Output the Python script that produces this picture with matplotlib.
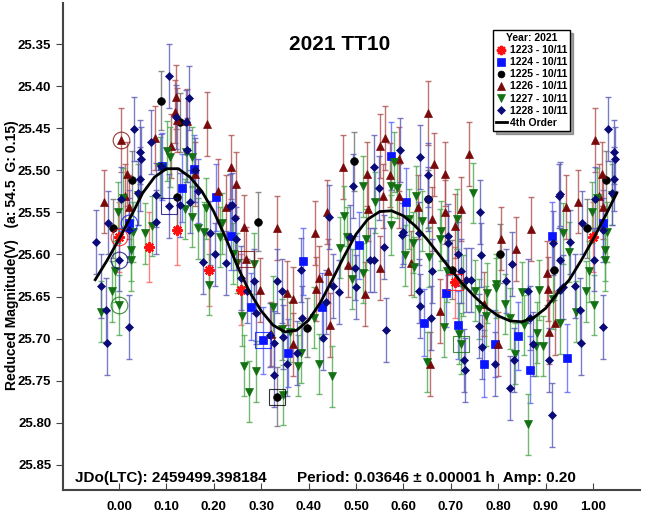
import matplotlib
matplotlib.use('Agg')
import matplotlib.pyplot as plt
from matplotlib.lines import Line2D
import numpy as np

plt.rcParams['font.family'] = ['Liberation Sans', 'DejaVu Sans']
plt.rcParams['font.weight'] = 'bold'

# Datos de fase (0-1) y magnitud reducida por sesion
p1223 = [0.000, 0.063, 0.123, 0.189, 0.257, 0.709]
m1223 = [25.579, 25.591, 25.571, 25.619, 25.642, 25.633]

p1224 = [0.022, 0.091, 0.133, 0.159, 0.205, 0.236, 0.278, 0.303, 0.356, 0.389,
         0.429, 0.507, 0.573, 0.605, 0.644, 0.690, 0.716, 0.769, 0.794, 0.842,
         0.867, 0.913, 0.946]
m1224 = [25.563, 25.495, 25.521, 25.498, 25.532, 25.578, 25.662, 25.702, 25.717, 25.608,
         25.662, 25.589, 25.483, 25.537, 25.681, 25.646, 25.684, 25.730, 25.706, 25.697,
         25.737, 25.578, 25.723]

p1225 = [0.028, 0.088, 0.123, 0.128, 0.293, 0.333, 0.397, 0.496, 0.651, 0.703,
         0.804, 0.917, 0.987]
m1225 = [25.512, 25.417, 25.532, 25.443, 25.561, 25.769, 25.687, 25.489, 25.534, 25.618,
         25.599, 25.619, 25.569]

p1226 = [0.005, 0.012, 0.018, 0.022, 0.075, 0.110, 0.119, 0.121, 0.123, 0.144,
         0.161, 0.186, 0.208, 0.226, 0.236, 0.247, 0.263, 0.269, 0.298, 0.320,
         0.334, 0.354, 0.368, 0.368, 0.413, 0.415, 0.422, 0.439, 0.441, 0.445,
         0.473, 0.484, 0.518, 0.523, 0.526, 0.551, 0.551, 0.556, 0.561, 0.571,
         0.590, 0.591, 0.616, 0.630, 0.651, 0.656, 0.661, 0.665, 0.677, 0.688,
         0.688, 0.708, 0.722, 0.739, 0.769, 0.799, 0.805, 0.838, 0.869, 0.902,
         0.904, 0.908, 0.920, 0.943, 0.968]
m1226 = [25.464, 25.531, 25.504, 25.543, 25.461, 25.471, 25.430, 25.413, 25.440, 25.441,
         25.504, 25.445, 25.525, 25.543, 25.496, 25.516, 25.567, 25.605, 25.642, 25.694,
         25.568, 25.646, 25.653, 25.707, 25.574, 25.641, 25.628, 25.549, 25.620, 25.684,
         25.496, 25.612, 25.647, 25.504, 25.546, 25.471, 25.616, 25.531, 25.461, 25.506,
         25.531, 25.487, 25.610, 25.543, 25.432, 25.730, 25.558, 25.493, 25.667, 25.504,
         25.549, 25.566, 25.546, 25.481, 25.659, 25.706, 25.581, 25.593, 25.570, 25.622,
         25.641, 25.692, 25.681, 25.543, 25.537]

p1227 = [0.001, 0.008, 0.026, 0.026, 0.030, 0.040, 0.055, 0.070, 0.086, 0.101,
         0.107, 0.139, 0.141, 0.154, 0.154, 0.167, 0.179, 0.184, 0.190, 0.213,
         0.217, 0.240, 0.249, 0.259, 0.263, 0.275, 0.285, 0.289, 0.324, 0.343,
         0.345, 0.361, 0.378, 0.383, 0.411, 0.422, 0.450, 0.467, 0.474, 0.480,
         0.492, 0.515, 0.515, 0.521, 0.540, 0.573, 0.574, 0.581, 0.586, 0.603,
         0.612, 0.621, 0.623, 0.626, 0.639, 0.650, 0.655, 0.678, 0.679, 0.686,
         0.691, 0.713, 0.718, 0.722, 0.726, 0.747, 0.751, 0.759, 0.775, 0.776,
         0.795, 0.795, 0.815, 0.824, 0.835, 0.851, 0.854, 0.862, 0.880, 0.881,
         0.887, 0.895, 0.916, 0.930, 0.937, 0.950, 0.963, 0.985, 0.991, 0.998]
m1227 = [25.660, 25.533, 25.595, 25.607, 25.573, 25.529, 25.575, 25.566, 25.496, 25.477,
         25.484, 25.546, 25.478, 25.555, 25.484, 25.569, 25.573, 25.545, 25.636, 25.579,
         25.563, 25.599, 25.610, 25.673, 25.732, 25.763, 25.611, 25.739, 25.662, 25.689,
         25.767, 25.692, 25.732, 25.717, 25.675, 25.730, 25.745, 25.592, 25.554, 25.579,
         25.629, 25.519, 25.622, 25.582, 25.538, 25.565, 25.519, 25.490, 25.521, 25.601,
         25.558, 25.586, 25.615, 25.531, 25.560, 25.728, 25.603, 25.582, 25.572, 25.686,
         25.620, 25.558, 25.694, 25.706, 25.637, 25.527, 25.643, 25.665, 25.673, 25.646,
         25.635, 25.640, 25.659, 25.676, 25.718, 25.645, 25.684, 25.802, 25.709, 25.693,
         25.642, 25.709, 25.653, 25.682, 25.575, 25.597, 25.668, 25.644, 25.620, 25.550]

p1228 = [0.001, 0.004, 0.021, 0.022, 0.032, 0.040, 0.044, 0.044, 0.047, 0.067,
         0.079, 0.079, 0.088, 0.105, 0.106, 0.121, 0.128, 0.141, 0.144, 0.147,
         0.149, 0.160, 0.167, 0.177, 0.192, 0.203, 0.226, 0.234, 0.238, 0.245,
         0.247, 0.257, 0.271, 0.285, 0.289, 0.318, 0.326, 0.328, 0.333, 0.343,
         0.345, 0.354, 0.376, 0.383, 0.387, 0.431, 0.437, 0.442, 0.451, 0.464,
         0.487, 0.493, 0.498, 0.500, 0.530, 0.537, 0.538, 0.549, 0.560, 0.563,
         0.593, 0.596, 0.600, 0.632, 0.633, 0.635, 0.636, 0.652, 0.652, 0.659,
         0.661, 0.693, 0.695, 0.716, 0.721, 0.727, 0.730, 0.732, 0.742, 0.760,
         0.762, 0.763, 0.766, 0.793, 0.816, 0.825, 0.830, 0.833, 0.862, 0.866,
         0.873, 0.908, 0.913, 0.916, 0.929, 0.930, 0.930, 0.931, 0.937, 0.952,
         0.962, 0.972, 0.974, 0.977]
m1228 = [25.606, 25.534, 25.686, 25.571, 25.451, 25.527, 25.478, 25.510, 25.486, 25.466,
         25.529, 25.561, 25.495, 25.388, 25.542, 25.436, 25.541, 25.442, 25.476, 25.414,
         25.537, 25.500, 25.525, 25.609, 25.574, 25.600, 25.610, 25.542, 25.541, 25.557,
         25.581, 25.628, 25.643, 25.632, 25.669, 25.696, 25.705, 25.743, 25.632, 25.643,
         25.698, 25.730, 25.717, 25.618, 25.676, 25.699, 25.657, 25.555, 25.637, 25.645,
         25.579, 25.519, 25.616, 25.639, 25.607, 25.496, 25.607, 25.521, 25.591, 25.690,
         25.476, 25.577, 25.573, 25.575, 25.643, 25.484, 25.661, 25.506, 25.534, 25.675,
         25.620, 25.578, 25.586, 25.599, 25.620, 25.726, 25.737, 25.630, 25.630, 25.685,
         25.550, 25.601, 25.710, 25.730, 25.631, 25.759, 25.611, 25.725, 25.643, 25.676,
         25.706, 25.725, 25.791, 25.586, 25.531, 25.606, 25.642, 25.528, 25.639, 25.585,
         25.638, 25.666, 25.705, 25.562]

# Error tipico de cada sesion (mag)
err = {'1223': 0.042, '1224': 0.040, '1225': 0.035,
       '1226': 0.038, '1227': 0.036, '1228': 0.038}

# Curva de ajuste de 4o orden
fit_phase = [-0.050, -0.025, 0.000, 0.025, 0.050, 0.075, 0.100, 0.125, 0.150, 0.175,
             0.200, 0.225, 0.250, 0.275, 0.300, 0.325, 0.350, 0.375, 0.400, 0.425,
             0.450, 0.475, 0.500, 0.525, 0.550, 0.575, 0.600, 0.625, 0.650, 0.675,
             0.700, 0.725, 0.750, 0.775, 0.800, 0.825, 0.850, 0.875, 0.900, 0.925,
             0.950, 0.975, 1.000, 1.025, 1.050]
fit_mag = [25.630, 25.607, 25.582, 25.555, 25.527, 25.508, 25.498, 25.498, 25.508, 25.525,
           25.549, 25.580, 25.614, 25.644, 25.667, 25.684, 25.692, 25.690, 25.678, 25.657,
           25.630, 25.602, 25.576, 25.558, 25.549, 25.548, 25.554, 25.566, 25.582, 25.600,
           25.618, 25.635, 25.650, 25.663, 25.673, 25.679, 25.680, 25.675, 25.664, 25.646,
           25.630, 25.607, 25.582, 25.555, 25.527]

# Puntos marcados con circulo o cuadrado (sesion, fase, mag)
circled = [('1223', 0.000, 25.579), ('1224', 0.022, 25.563), ('1226', 0.005, 25.464),
           ('1227', 0.001, 25.660), ('1228', 0.001, 25.606)]
boxed = [('1228', 0.106, 25.542), ('1225', 0.333, 25.769), ('1226', 0.269, 25.605),
         ('1224', 0.303, 25.702), ('1223', 0.709, 25.633), ('1227', 0.722, 25.706)]

series = [
    ('1223', p1223, m1223, (8, 2, 0), '#ff1010', '#ff6060', 7.5),
    ('1224', p1224, m1224, 's', '#0a14ff', '#5a64ff', 6),
    ('1225', p1225, m1225, 'o', '#000000', '#707070', 5.5),
    ('1226', p1226, m1226, '^', '#7a0a0a', '#b05050', 6),
    ('1227', p1227, m1227, 'v', '#137013', '#4fa84f', 6),
    ('1228', p1228, m1228, 'D', '#0a0a78', '#5a5ab8', 4.5),
]
colors = {s[0]: s[4] for s in series}


def wrap(p, m):
    """Repite los puntos cerca de 0 y 1 para cubrir -0.05 .. 1.05"""
    p = np.array(p)
    m = np.array(m)
    lo = p > 0.95
    hi = p < 0.05
    return (np.concatenate([p, p[lo] - 1, p[hi] + 1]),
            np.concatenate([m, m[lo], m[hi]]))


fig = plt.figure(figsize=(6.45, 5.15), dpi=100)
ax = fig.add_axes([63 / 645, 1 - 490 / 515, 577 / 645, 487 / 515])

for name, p, m, mk, col, ecol, ms in series:
    x, y = wrap(p, m)
    ax.errorbar(x, y, yerr=err[name], fmt='none', ecolor=ecol, elinewidth=1,
                capsize=2, capthick=1, alpha=0.8, zorder=2)
    ax.plot(x, y, linestyle='none', marker=mk, color=col, markersize=ms,
            markeredgewidth=1.6 if name == '1223' else 0.5, zorder=3)

for name, p, m in circled:
    ax.plot(p, m, linestyle='none', marker='o', markersize=12, markerfacecolor='none',
            markeredgecolor=colors[name], markeredgewidth=0.8, alpha=0.8, zorder=4)
for name, p, m in boxed:
    ax.plot(p, m, linestyle='none', marker='s', markersize=11, markerfacecolor='none',
            markeredgecolor=colors[name], markeredgewidth=0.8, alpha=0.8, zorder=4)

ax.plot(fit_phase, fit_mag, color='black', linewidth=2, zorder=5)

ax.set_xlim(-0.118, 1.099)
ax.set_ylim(25.880, 25.301)
ax.set_xticks(np.arange(0, 1.01, 0.1))
ax.set_xticklabels(['%.2f' % t for t in np.arange(0, 1.01, 0.1)])
ax.set_yticks(np.arange(25.35, 25.851, 0.05))
ax.set_yticklabels(['%.2f' % t for t in np.arange(25.35, 25.851, 0.05)])
ax.tick_params(axis='x', direction='in', length=5, labelsize=9.5, pad=8, color='#444444')
ax.tick_params(axis='y', direction='out', length=5, labelsize=9.5, color='#444444')
for lab in ax.get_xticklabels() + ax.get_yticklabels():
    lab.set_fontweight('bold')
ax.spines['top'].set_visible(False)
ax.spines['right'].set_visible(False)
ax.spines['left'].set_color('#444444')
ax.spines['bottom'].set_color('#444444')
ax.spines['left'].set_linewidth(1.5)
ax.spines['bottom'].set_linewidth(1.5)

fig.text(12 / 645, 1 - 255 / 515, 'Reduced Magnitude(V)   (a: 54.5  G: 0.15)',
         rotation=90, ha='center', va='center', fontsize=10, fontweight='bold')
fig.text(340 / 645, 1 - 45 / 515, '2021 TT10', ha='center', va='center',
         fontsize=15, fontweight='bold')
fig.text(75 / 645, 1 - 478 / 515, 'JDo(LTC): 2459499.398184', ha='left', va='center',
         fontsize=11, fontweight='bold')
fig.text(297 / 645, 1 - 478 / 515, 'Period: 0.03646 \u00b1 0.00001 h  Amp: 0.20',
         ha='left', va='center', fontsize=11, fontweight='bold')

handles = [Line2D([], [], linestyle='none', marker=s[3], color=s[4],
                  markersize=s[6] * 0.9, markeredgewidth=1.6 if s[0] == '1223' else 0.5)
           for s in series]
labels = [s[0] + ' - 10/11' for s in series]
handles.append(Line2D([], [], color='black', linewidth=2))
labels.append('4th Order')
leg = fig.legend(handles, labels, title='Year: 2021', loc='upper left',
                 bbox_to_anchor=(493 / 645, 1 - 30 / 515), prop={'size': 7.5, 'weight': 'bold'},
                 title_fontproperties={'size': 7.5, 'weight': 'bold'},
                 fancybox=False, shadow=True, framealpha=1, edgecolor='black',
                 handlelength=1.0, handletextpad=0.3, labelspacing=0.2,
                 borderpad=0.3, borderaxespad=0)
leg.get_frame().set_linewidth(1)

fig.savefig('out.png', dpi=100)
plt.close(fig)
